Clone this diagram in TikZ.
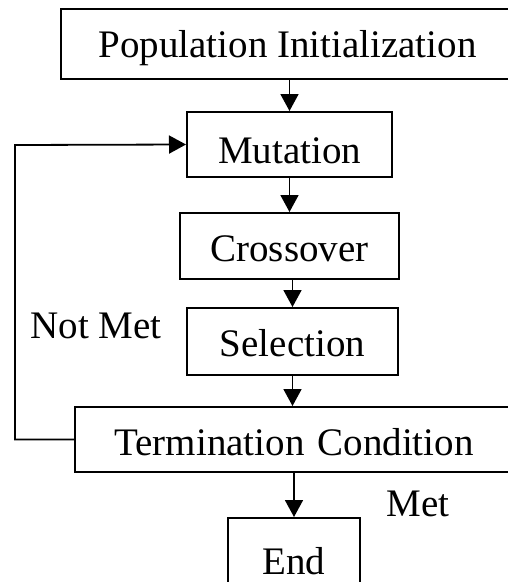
\documentclass[tikz,border=0pt]{standalone}
\usepackage{fontspec}
\setmainfont{Liberation Serif}
\usetikzlibrary{arrows.meta}
\begin{document}
\begin{tikzpicture}[x=1pt,y=-1pt,
  box/.style={draw,line width=2pt,inner sep=0pt,font=\fontsize{39}{47}\selectfont,text depth=0pt},
  lbl/.style={inner sep=0pt,font=\fontsize{39}{47}\selectfont,text depth=0pt,text height=26pt},
  arr/.style={line width=1.8pt,-{Triangle[length=17pt,width=18pt]}}]
\useasboundingbox (0,0) rectangle (508,582);
\clip (0,0) rectangle (508,582);
\fill[white] (0,0) rectangle (508,582);
\node[box,minimum width=453pt,minimum height=70pt,text height=27pt] (init) at (287.5,44) {Population Initialization};
\node[box,minimum width=205pt,minimum height=65pt,text height=37pt] (mut) at (289.5,144.5) {Mutation};
\node[box,minimum width=219pt,minimum height=66pt,text height=30pt] (cross) at (289.5,246) {Crossover};
\node[box,minimum width=211pt,minimum height=67pt,text height=30pt] (sel) at (292.5,341.5) {Selection};
\node[box,minimum width=438pt,minimum height=65pt,text height=31pt] (term) at (294,439.5) {Termination\hspace{13pt}Condition};
\node[box,minimum width=132pt,minimum height=82pt,text height=30pt] (end) at (294,559) {End};
\node[lbl] (notmet) at (96,325.5) {Not Met};
\node[lbl] (met) at (418,503) {Met};
\coordinate (fb) at (15,145);
\draw[arr] (mut.north |- init.south) -- (mut.north);
\draw[arr] (cross.north |- mut.south) -- (cross.north);
\draw[arr] (sel.north |- cross.south) -- (sel.north);
\draw[arr] (sel.south) -- (sel.south |- term.north);
\draw[arr] (term.south) -- (end.north);
\draw[arr] (term.west) -| (fb) -- (mut.west);
\end{tikzpicture}
\end{document}
